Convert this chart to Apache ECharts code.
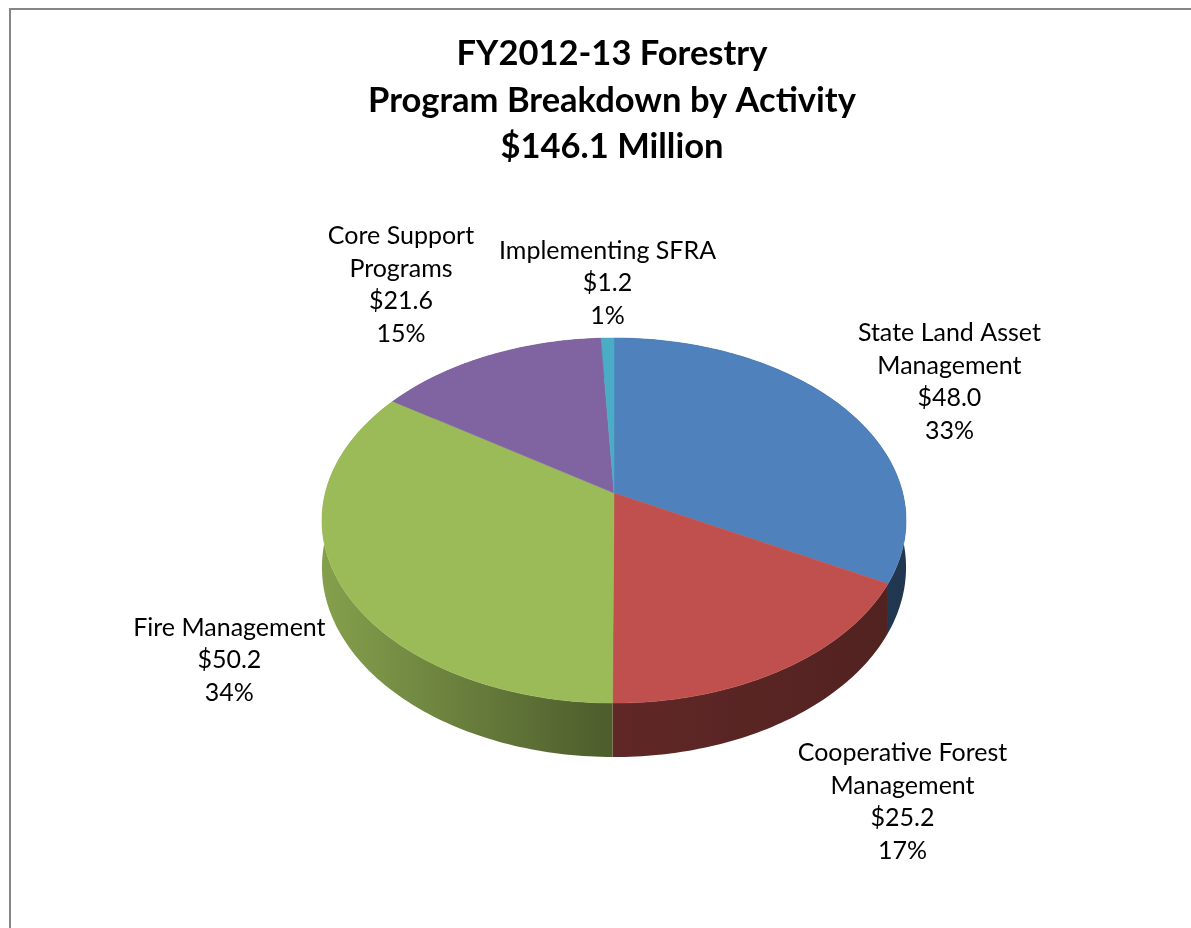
<!DOCTYPE html>
<html><head><meta charset="utf-8">
<script src="https://cdn.jsdelivr.net/npm/echarts@6/dist/echarts.min.js"></script>
<style>html,body{margin:0;padding:0;background:#fff}#c{width:1191px;height:928px}</style>
</head><body><div id="c"></div>
<script>
// ---- data ----
const titleLines = ['FY2012-13 Forestry', 'Program Breakdown by Activity', '$146.1 Million'];
const categories = ['State Land Asset\nManagement', 'Cooperative Forest\nManagement', 'Fire Management', 'Core Support\nPrograms', 'Implementing SFRA'];
const values = [48.0, 25.2, 50.2, 21.6, 1.2];
const colors = ['#4F81BD', '#C0504D', '#9BBB59', '#8064A2', '#4BACC6'];

// ---- derived ----
const total = values.reduce((a, b) => a + b, 0);
const starts = []; { let acc = 0; values.forEach(v => { starts.push(acc); acc += v; }); }

// pie geometry (perspective-projected disc)
const PIE = { cx: 614, cy: 493, rx: 288.7, ry: 178.4, d: 6.63, h: 45.8 };
const FONT_FAMILY = 'Lato';
const LABEL_FONT = '25px ' + FONT_FAMILY;
const LINE_H = 32.5;

function proj(theta, r) {
  const u = Math.sin(theta) * r, v = -Math.cos(theta) * r;
  const f = PIE.d / (PIE.d - v);
  return [PIE.cx + PIE.rx * u * f, PIE.cy + PIE.ry * v * f, f, u, v];
}
function arcPoints(a0, a1, withDepth) {
  const n = Math.max(2, Math.ceil((a1 - a0) / (Math.PI / 180)));
  const pts = [];
  for (let i = 0; i <= n; i++) {
    const p = proj(a0 + (a1 - a0) * i / n, 1);
    pts.push([p[0], p[1] + (withDepth ? PIE.h * p[2] : 0)]);
  }
  return pts;
}
function shade(hex, k) {
  const n = parseInt(hex.slice(1), 16);
  const r = Math.round(((n >> 16) & 255) * k), g = Math.round(((n >> 8) & 255) * k), b = Math.round((n & 255) * k);
  return 'rgb(' + r + ',' + g + ',' + b + ')';
}
const mctx = document.createElement('canvas').getContext('2d');
mctx.font = LABEL_FONT;
function textWidth(s) { return Math.max.apply(null, s.split('\n').map(l => mctx.measureText(l).width)); }

function angles(idx, val) {
  const a0 = starts[idx] / total * Math.PI * 2;
  return [a0, a0 + val / total * Math.PI * 2];
}

const chart = echarts.init(document.getElementById('c'), null, { renderer: 'canvas' });
const seriesData = values.map((v, i) => ({ value: v, name: categories[i] }));

chart.setOption({
  animation: false,
  backgroundColor: '#ffffff',
  title: {
    text: titleLines.join('\n'),
    left: 607, top: 26, textAlign: 'center',
    textStyle: { fontFamily: FONT_FAMILY, fontSize: 34.5, fontWeight: 'bold', lineHeight: 46.5, color: '#000' }
  },
  graphic: [{
    type: 'rect', z: -10, silent: true,
    shape: { x: 10, y: 9, width: 1200, height: 940 },
    style: { fill: 'none', stroke: '#868686', lineWidth: 2 }
  }],
  series: [
    { // side walls
      type: 'custom', coordinateSystem: 'none', z: 1, silent: true, data: seriesData,
      renderItem: (params, api) => {
        const i = params.dataIndex;
        const [a0, a1] = angles(i, api.value(0));
        const pts = arcPoints(a0, a1, false).concat(arcPoints(a0, a1, true).reverse());
        const c = colors[i];
        return {
          type: 'polygon', shape: { points: pts },
          style: {
            fill: { type: 'linear', x: PIE.cx - PIE.rx, y: 0, x2: PIE.cx + PIE.rx, y2: 0, global: true,
              colorStops: [{ offset: 0, color: shade(c, 0.85) }, { offset: 0.48, color: shade(c, 0.5) }, { offset: 1, color: shade(c, 0.42) }] },
            stroke: null
          }
        };
      }
    },
    { // top faces + labels
      type: 'custom', coordinateSystem: 'none', z: 2, silent: true, data: seriesData,
      renderItem: (params, api) => {
        const i = params.dataIndex;
        const val = api.value(0);
        const [a0, a1] = angles(i, val);
        const pts = [[PIE.cx, PIE.cy]].concat(arcPoints(a0, a1, false));
        // label placement (outside end)
        const mid = (a0 + a1) / 2;
        const p = proj(mid, 1);
        const u = p[3], v = p[4];
        const px = p[0], py = p[1] + (v > 0 ? PIE.h * p[2] : 0);
        const txt = categories[i] + '\n$' + val.toFixed(1) + '\n' + Math.round(val / total * 100) + '%';
        const W = textWidth(txt);
        const H = txt.split('\n').length * LINE_H;
        const gx = 14;
        let cxl;
        if (u > 0.3) cxl = px + gx + W / 2; else if (u < -0.3) cxl = px - gx - W / 2; else cxl = px;
        let topY;
        if (v < -0.7) topY = py - 6 - H; else if (v > 0.7) topY = py + 15; else topY = py + 55 * v + 2 - H / 2;
        return {
          type: 'group',
          children: [
            { type: 'polygon', shape: { points: pts }, style: { fill: colors[i], stroke: colors[i], lineWidth: 0.5 } },
            { type: 'text', style: { text: txt, x: cxl, y: topY, font: LABEL_FONT, fill: '#000',
                align: 'center', textAlign: 'center', verticalAlign: 'top', textVerticalAlign: 'top', lineHeight: LINE_H } }
          ]
        };
      }
    }
  ]
});
</script>
</body></html>
